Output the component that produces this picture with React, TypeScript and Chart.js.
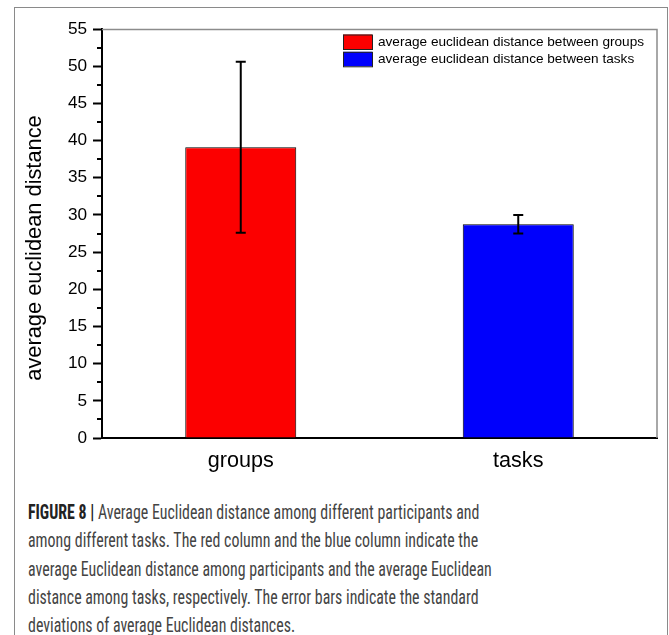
import React, { useEffect, useRef } from "react";
import { Chart, registerables } from "chart.js";

Chart.register(...registerables);

const categories = ["groups", "tasks"];
const meanValues = [39.1, 28.75];
const sdValues = [11.5, 1.25];
const barColors = ["#fc0000", "#0000fc"];
const legendLabels = [
  "average euclidean distance between groups",
  "average euclidean distance between tasks",
];
const yTitle = "average euclidean distance";
const yMin = 0;
const yMax = 55;
const majorStep = 5;
const minorStep = 2.5;

const captionLines = [
  "Average Euclidean distance among different participants and",
  "among different tasks. The red column and the blue column indicate the",
  "average Euclidean distance among participants and the average Euclidean",
  "distance among tasks, respectively. The error bars indicate the standard",
  "deviations of average Euclidean distances.",
];

const FONT = "'Liberation Sans', Arial, sans-serif";

const decorPlugin = {
  id: "decor",
  beforeDatasetsDraw(chart: any) {
    const { ctx, chartArea } = chart;
    ctx.save();
    ctx.strokeStyle = "#8c8c8c";
    ctx.lineWidth = 1.5;
    ctx.beginPath();
    ctx.moveTo(chartArea.left, chartArea.top + 0.5);
    ctx.lineTo(chartArea.right, chartArea.top + 0.5);
    ctx.lineTo(chartArea.right, chartArea.bottom);
    ctx.stroke();
    ctx.restore();
  },
  afterDatasetsDraw(chart: any) {
    const { ctx, chartArea, scales } = chart;
    const y = scales.y;
    const meta = chart.getDatasetMeta(0);
    ctx.save();
    // error bars
    ctx.strokeStyle = "#000";
    ctx.lineWidth = 2;
    meta.data.forEach((bar: any, i: number) => {
      const x = bar.x;
      const top = y.getPixelForValue(meanValues[i] + sdValues[i]);
      const bot = y.getPixelForValue(meanValues[i] - sdValues[i]);
      ctx.beginPath();
      ctx.moveTo(x, top);
      ctx.lineTo(x, bot);
      ctx.moveTo(x - 5, top);
      ctx.lineTo(x + 5, top);
      ctx.moveTo(x - 5, bot);
      ctx.lineTo(x + 5, bot);
      ctx.stroke();
    });
    // minor ticks
    ctx.lineWidth = 2;
    for (let v = yMin; v <= yMax + 1e-9; v += minorStep) {
      if (Math.abs(v / majorStep - Math.round(v / majorStep)) < 1e-6) continue;
      const py = Math.round(y.getPixelForValue(v));
      ctx.beginPath();
      ctx.moveTo(chartArea.left - 5, py);
      ctx.lineTo(chartArea.left, py);
      ctx.stroke();
    }
    // legend
    const lx = chartArea.right - 314;
    const ly = chartArea.top + 5.5;
    ctx.font = `13.6px ${FONT}`;
    ctx.textBaseline = "middle";
    ctx.textAlign = "left";
    legendLabels.forEach((lab, i) => {
      const by = ly + i * 17.3;
      ctx.fillStyle = barColors[i];
      ctx.fillRect(lx, by, 29, 14.5);
      ctx.strokeStyle = "#222";
      ctx.lineWidth = 1;
      ctx.strokeRect(lx + 0.5, by + 0.5, 29, 14.5);
      ctx.fillStyle = "#000";
      ctx.fillText(lab, lx + 35, by + 7.8);
    });
    // y title
    ctx.translate(41, 248);
    ctx.rotate(-Math.PI / 2);
    ctx.textAlign = "center";
    ctx.textBaseline = "alphabetic";
    ctx.font = `21.8px ${FONT}`;
    ctx.fillStyle = "#000";
    ctx.fillText(yTitle, 0, 0);
    ctx.restore();
  },
};

function App() {
  const ref = useRef<HTMLCanvasElement | null>(null);
  useEffect(() => {
    if (!ref.current) return;
    const chart = new Chart(ref.current, {
      type: "bar",
      data: {
        labels: categories,
        datasets: [
          {
            data: meanValues,
            backgroundColor: barColors,
            borderColor: "#000",
            borderWidth: 1,
            barPercentage: 0.4,
            categoryPercentage: 1,
          },
        ],
      },
      options: {
        animation: false,
        responsive: false,
        devicePixelRatio: 1,
        layout: { padding: { left: 0, right: 12, top: 29, bottom: 0 } },
        plugins: {
          legend: { display: false },
          tooltip: { enabled: false },
        },
        scales: {
          x: {
            grid: { display: false, drawTicks: false },
            border: { color: "#000", width: 2 },
            ticks: {
              color: "#000",
              font: { family: FONT, size: 21.6 },
              padding: 10,
            },
            afterFit: (s: any) => {
              s.height = 42;
            },
          },
          y: {
            min: yMin,
            max: yMax,
            border: { color: "#000", width: 2 },
            grid: {
              drawOnChartArea: false,
              drawTicks: true,
              tickLength: 9,
              tickWidth: 2,
              color: "transparent",
              tickColor: (c: any) =>
                c.tick && Math.abs(c.tick.value % majorStep) < 1e-6 ? "#000" : "transparent",
            },
            ticks: {
              stepSize: minorStep,
              autoSkip: false,
              color: "#000",
              font: { family: FONT, size: 17.2 },
              padding: 6,
              callback: (v: any) =>
                Math.abs(Number(v) % majorStep) < 1e-6 ? String(v) : "",
            },
            afterFit: (s: any) => {
              s.width = 102;
            },
          },
        },
      },
      plugins: [decorPlugin],
    });
    return () => chart.destroy();
  }, []);

  return (
    <div
      style={{
        position: "absolute",
        left: 0,
        top: 0,
        width: 669,
        height: 635,
        overflow: "hidden",
        background: "#fff",
      }}
    >
      <div
        style={{
          position: "absolute",
          left: 14,
          top: 7,
          width: 654,
          height: 700,
          border: "1px solid #8a8a8a",
          boxSizing: "border-box",
        }}
      />
      <canvas
        ref={ref}
        width={669}
        height={480}
        style={{ position: "absolute", left: 0, top: 0, width: 669, height: 480 }}
      />
      <div
        style={{
          position: "absolute",
          left: 28,
          top: 498,
          fontFamily: "'Roboto Condensed', Roboto, 'Liberation Sans', sans-serif",
          fontSize: 20,
          lineHeight: "28.3px",
          color: "#444",
          whiteSpace: "nowrap",
          transform: "scaleX(0.795)",
          transformOrigin: "0 0",
        }}
      >
        {captionLines.map((line, i) => (
          <div key={i}>
            {i === 0 ? (
              <span style={{ fontWeight: "bold", color: "#222" }}>FIGURE 8 | </span>
            ) : null}
            {line}
          </div>
        ))}
      </div>
    </div>
  );
}

export default App;
